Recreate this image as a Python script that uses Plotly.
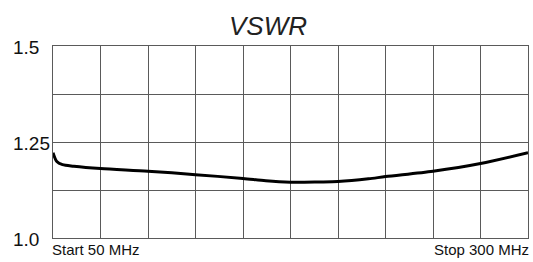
import plotly.graph_objects as go

freq_mhz = [50, 52, 55, 61, 75, 100, 125, 150, 162, 175, 190, 200, 216, 225, 250, 275, 300]
vswr = [1.222, 1.199, 1.191, 1.187, 1.181, 1.174, 1.165, 1.155, 1.149, 1.1455, 1.146, 1.147, 1.154, 1.160, 1.174, 1.194, 1.222]

y_ticks = [1.0, 1.25, 1.5]
y_tick_text = ["1.0", "1.25", "1.5"]
x_grid = [50, 75, 100, 125, 150, 175, 200, 225, 250, 275, 300]
y_grid = [1.0, 1.125, 1.25, 1.375, 1.5]
title = "VSWR"
start_label = "Start 50 MHz"
stop_label = "Stop 300 MHz"

font = "Liberation Sans, Arial, sans-serif"
grid_color = "#5a5a5a"

fig = go.Figure()
fig.add_trace(go.Scatter(x=freq_mhz, y=vswr, mode="lines",
                         line=dict(color="black", width=3, shape="spline", smoothing=0.8),
                         hoverinfo="skip", showlegend=False))

fig.update_layout(
    width=533, height=262,
    margin=dict(l=53, r=5, t=46, b=24),
    paper_bgcolor="white", plot_bgcolor="white",
    showlegend=False,
    xaxis=dict(range=[50, 300], tickvals=x_grid, showticklabels=False, showgrid=True,
               gridcolor=grid_color, gridwidth=1.2, zeroline=False, showline=True,
               linecolor=grid_color, linewidth=1.2, mirror=True, ticks=""),
    yaxis=dict(range=[1.0, 1.5], tickvals=y_grid, showticklabels=False, showgrid=True,
               gridcolor=grid_color, gridwidth=1.2, zeroline=False, showline=True,
               linecolor=grid_color, linewidth=1.2, mirror=True, ticks=""),
)

annotations = [dict(text="<i>" + title + "</i>", xref="paper", yref="paper",
                    x=(268 - 53) / 475, y=1.0,
                    yanchor="bottom", xanchor="center", yshift=3, showarrow=False,
                    font=dict(family=font, size=26, color="#222"))]
for v, t in zip(y_ticks, y_tick_text):
    annotations.append(dict(text=t, xref="paper", yref="y", x=(11 - 53) / 475, y=v,
                            xanchor="left", yanchor="middle", showarrow=False, yshift=-1,
                            font=dict(family=font, size=19, color="#111")))
annotations.append(dict(text=start_label, xref="paper", yref="paper", x=0, y=0,
                        xanchor="left", yanchor="top", yshift=-1, xshift=-3, showarrow=False,
                        font=dict(family=font, size=15, color="#111")))
annotations.append(dict(text=stop_label, xref="paper", yref="paper", x=1, y=0,
                        xanchor="right", yanchor="top", yshift=-1, xshift=3, showarrow=False,
                        font=dict(family=font, size=15, color="#111")))
fig.update_layout(annotations=annotations)

fig.write_html("out.html", config={"displayModeBar": False},
               post_script="document.body.style.margin='0';")
